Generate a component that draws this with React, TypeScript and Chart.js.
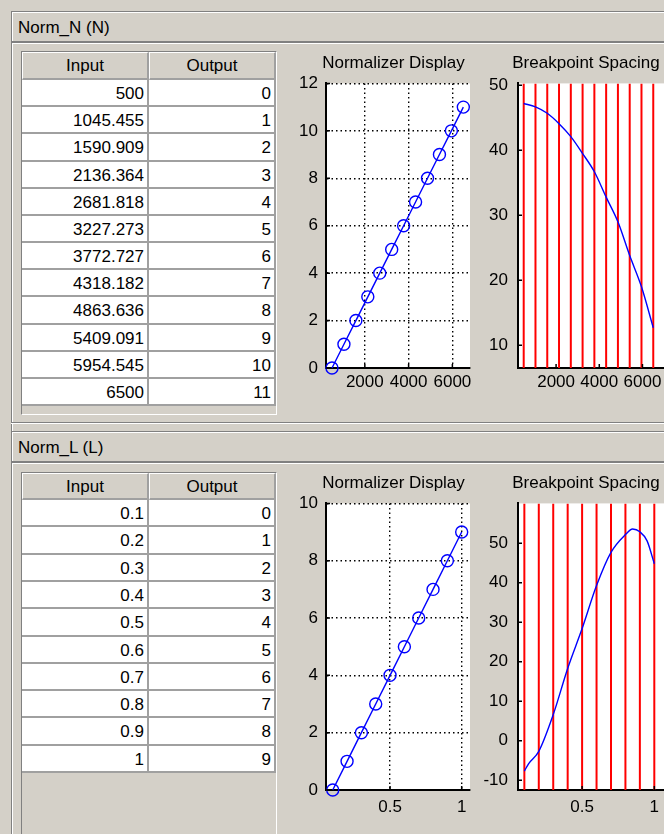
import React, { useEffect, useRef } from 'react';
import { Chart, registerables } from 'chart.js';

Chart.register(...registerables);

// ---------------- data ----------------
const N_TITLE = 'Norm_N (N)';
const L_TITLE = 'Norm_L (L)';
const TABLE_HEADERS = ['Input', 'Output'];
const DISPLAY_TITLE = 'Normalizer Display';
const SPACING_TITLE = 'Breakpoint Spacing';

const N_INPUT = [500, 1045.455, 1590.909, 2136.364, 2681.818, 3227.273, 3772.727, 4318.182, 4863.636, 5409.091, 5954.545, 6500];
const N_OUTPUT = [0, 1, 2, 3, 4, 5, 6, 7, 8, 9, 10, 11];
const N_SPACING = [47.2, 46.7, 45.7, 44.1, 42.1, 39.5, 36.7, 32.8, 29.0, 23.8, 19.0, 12.7];
const N_X_TICKS = [2000, 4000, 6000];
const N_DISPLAY_Y_TICKS = [0, 2, 4, 6, 8, 10, 12];
const N_SPACING_Y_TICKS = [10, 20, 30, 40, 50];

const L_INPUT = [0.1, 0.2, 0.3, 0.4, 0.5, 0.6, 0.7, 0.8, 0.9, 1];
const L_OUTPUT = [0, 1, 2, 3, 4, 5, 6, 7, 8, 9];
const L_SPACING_X = [0.1, 0.13, 0.2, 0.3, 0.4, 0.5, 0.6, 0.7, 0.8, 0.85, 0.9, 0.95, 1.0];
const L_SPACING_Y = [-7.7, -5.8, -2.7, 6.6, 18.3, 28.4, 39.3, 47.7, 52.2, 53.6, 52.9, 50.6, 44.8];
const L_X_TICKS = [0.5, 1];
const L_DISPLAY_Y_TICKS = [0, 2, 4, 6, 8, 10];
const L_SPACING_Y_TICKS = [-10, 0, 10, 20, 30, 40, 50];

// ---------------- style ----------------
const FONT = '"Liberation Sans", Arial, Helvetica, sans-serif';
const BG = '#d4d0c8';
const DARK = '#808080';
const GRIDC = '#a0a0a0';

Chart.defaults.font.family = FONT;
Chart.defaults.color = '#000';

const plotBg = {
  id: 'plotBg',
  beforeDraw(chart: any) {
    const { ctx, chartArea: a } = chart;
    ctx.save();
    ctx.fillStyle = '#fff';
    ctx.fillRect(a.left, a.top, a.right - a.left, a.bottom - a.top);
    ctx.restore();
  },
};

const inwardTicks = {
  id: 'inwardTicks',
  afterDatasetsDraw(chart: any) {
    const { ctx, chartArea: a } = chart;
    const xs = chart.scales.x;
    const ys = chart.scales.y;
    ctx.save();
    ctx.strokeStyle = '#000';
    ctx.lineWidth = 1.5;
    ctx.beginPath();
    xs.ticks.forEach((t: any) => {
      const p = xs.getPixelForValue(t.value);
      ctx.moveTo(p, a.bottom);
      ctx.lineTo(p, a.bottom - 4);
    });
    ys.ticks.forEach((t: any) => {
      const p = ys.getPixelForValue(t.value);
      ctx.moveTo(a.left, p);
      ctx.lineTo(a.left + 4, p);
    });
    ctx.stroke();
    ctx.restore();
  },
};

function axis(range: [number, number], ticks: number[], grid: boolean, pad: number) {
  return {
    type: 'linear',
    min: range[0],
    max: range[1],
    bounds: 'data',
    afterBuildTicks: (s: any) => {
      s.ticks = ticks.map((v) => ({ value: v }));
    },
    grid: { display: grid, drawTicks: false, color: '#000', lineWidth: 1.4 },
    border: { display: true, color: '#000', width: 2, dash: [1.5, 3] },
    ticks: {
      padding: pad,
      color: '#000',
      font: { size: 17, family: FONT },
      autoSkip: false,
      maxRotation: 0,
      callback: (v: any) => String(v),
    },
  };
}

type Spec = {
  title: string;
  datasets: any[];
  xRange: [number, number];
  yRange: [number, number];
  xTicks: number[];
  yTicks: number[];
  grid: boolean;
  yAxisW: number;
  rightW: number;
  xPad: number;
  yPad: number;
};

function buildConfig(p: Spec): any {
  return {
    type: 'line',
    data: { datasets: p.datasets },
    options: {
      responsive: false,
      animation: false,
      events: [],
      layout: { padding: 0 },
      plugins: {
        legend: { display: false },
        tooltip: { enabled: false },
        title: {
          display: true,
          text: p.title,
          color: '#000',
          font: { size: 17, weight: 'normal', family: FONT },
          padding: { top: 3, bottom: 10 },
        },
      },
      scales: {
        x: {
          ...axis(p.xRange, p.xTicks, p.grid, p.xPad),
          position: 'bottom',
          afterFit: (s: any) => {
            s.height = 30;
          },
        },
        y: {
          ...axis(p.yRange, p.yTicks, p.grid, p.yPad),
          position: 'left',
          afterFit: (s: any) => {
            s.width = p.yAxisW;
          },
        },
        spacer: {
          type: 'linear',
          position: 'right',
          grid: { display: false },
          border: { display: false },
          ticks: { display: false },
          afterFit: (s: any) => {
            s.width = p.rightW;
          },
        },
      },
    },
    plugins: [plotBg, inwardTicks],
  };
}

function ChartBox({ left, top, width, height, spec }: { left: number; top: number; width: number; height: number; spec: () => Spec }) {
  const ref = useRef<HTMLCanvasElement>(null);
  useEffect(() => {
    const chart = new Chart(ref.current as HTMLCanvasElement, buildConfig(spec()));
    return () => chart.destroy();
  }, []);
  return <canvas ref={ref} width={width} height={height} style={{ position: 'absolute', left, top, width, height }} />;
}

function displayDataset(xs: number[], ys: number[]) {
  return {
    data: xs.map((x, i) => ({ x, y: ys[i] })),
    borderColor: '#0000ff',
    borderWidth: 1.4,
    pointRadius: 6,
    pointBorderWidth: 1.4,
    pointBorderColor: '#0000ff',
    pointBackgroundColor: 'rgba(0,0,0,0)',
    tension: 0,
    clip: false,
  };
}

function spacingDatasets(curveX: number[], curveY: number[], breaks: number[], yRange: [number, number]) {
  return [
    {
      data: curveX.map((x, i) => ({ x, y: curveY[i] })),
      borderColor: '#0000ff',
      borderWidth: 1.4,
      pointRadius: 0,
      cubicInterpolationMode: 'monotone',
    },
    {
      data: breaks.flatMap((x) => [
        { x, y: yRange[0] },
        { x, y: yRange[1] },
        { x, y: null },
      ]),
      borderColor: '#ff0000',
      borderWidth: 2,
      pointRadius: 0,
      spanGaps: false,
    },
  ];
}

function Panel({ top, title }: { top: number; title: string }) {
  return (
    <>
      <div
        style={{
          position: 'absolute',
          left: 11,
          top,
          width: 700,
          height: 1000,
          borderTop: `1px solid ${DARK}`,
          borderLeft: `1px solid ${DARK}`,
          boxShadow: 'inset 1px 1px 0 #fff',
        }}
      />
      <div
        style={{
          position: 'absolute',
          left: 12,
          top: top + 1,
          width: 700,
          height: 29,
          borderBottom: `2px solid ${DARK}`,
          boxShadow: '0 1px 0 #fff',
          paddingLeft: 6,
          lineHeight: '31px',
          fontSize: 17,
          whiteSpace: 'nowrap',
        }}
      >
        {title}
      </div>
    </>
  );
}

function PanelBottom({ top }: { top: number }) {
  return (
    <div
      style={{
        position: 'absolute',
        left: 11,
        top,
        width: 700,
        height: 1,
        borderBottom: '1px solid #fff',
        background: DARK,
      }}
    />
  );
}

function DataTable({
  top,
  headerBottom,
  rowH,
  frameBottom,
  inputs,
  outputs,
}: {
  top: number;
  headerBottom: number;
  rowH: number;
  frameBottom: number;
  inputs: number[];
  outputs: number[];
}) {
  const cellText: React.CSSProperties = {
    position: 'absolute',
    boxSizing: 'border-box',
    textAlign: 'right',
    paddingRight: 3,
    fontSize: 17,
    background: '#fff',
    whiteSpace: 'nowrap',
  };
  const rows = inputs.map((v, i) => {
    const t = Math.round(headerBottom + i * rowH);
    const b = Math.round(headerBottom + (i + 1) * rowH);
    const h = b - t;
    return (
      <React.Fragment key={i}>
        <div
          style={{
            ...cellText,
            left: 22,
            top: t,
            width: 127,
            height: h,
            lineHeight: `${h}px`,
            borderRight: `2px solid ${GRIDC}`,
            borderBottom: `2px solid ${GRIDC}`,
          }}
        >
          {String(v)}
        </div>
        <div
          style={{
            ...cellText,
            left: 149,
            top: t,
            width: 127,
            height: h,
            lineHeight: `${h}px`,
            borderRight: `2px solid ${GRIDC}`,
            borderBottom: `2px solid ${GRIDC}`,
          }}
        >
          {String(outputs[i])}
        </div>
      </React.Fragment>
    );
  });
  const headH = headerBottom - (top + 1);
  const headStyle: React.CSSProperties = {
    position: 'absolute',
    boxSizing: 'border-box',
    top: top + 1,
    height: headH,
    lineHeight: `${headH - 2}px`,
    textAlign: 'center',
    fontSize: 17,
    background: BG,
    borderTop: '1px solid #fff',
    borderLeft: '1px solid #fff',
    borderRight: `2px solid ${GRIDC}`,
    borderBottom: `2px solid ${GRIDC}`,
  };
  return (
    <>
      <div
        style={{
          position: 'absolute',
          left: 21,
          top,
          width: 256,
          height: frameBottom - top,
          boxSizing: 'border-box',
          borderTop: `1px solid ${DARK}`,
          borderLeft: `1px solid ${DARK}`,
          borderRight: '1px solid #fff',
          borderBottom: '1px solid #fff',
        }}
      />
      <div style={{ ...headStyle, left: 22, width: 127 }}>{TABLE_HEADERS[0]}</div>
      <div style={{ ...headStyle, left: 149, width: 127 }}>{TABLE_HEADERS[1]}</div>
      {rows}
    </>
  );
}

export default function App() {
  return (
    <div
      style={{
        position: 'fixed',
        left: 0,
        top: 0,
        width: 664,
        height: 834,
        overflow: 'hidden',
        background: BG,
        fontFamily: FONT,
        color: '#000',
      }}
    >
      <Panel top={11} title={N_TITLE} />
      <DataTable top={51} headerBottom={80} rowH={27.17} frameBottom={415} inputs={N_INPUT} outputs={N_OUTPUT} />
      <ChartBox
        left={290}
        top={50}
        width={207}
        height={348}
        spec={() => ({
          title: DISPLAY_TITLE,
          datasets: [displayDataset(N_INPUT, N_OUTPUT)],
          xRange: [226, 6805],
          yRange: [0, 12],
          xTicks: N_X_TICKS,
          yTicks: N_DISPLAY_Y_TICKS,
          grid: true,
          yAxisW: 36,
          rightW: 27,
          xPad: 4,
          yPad: 8,
        })}
      />
      <ChartBox
        left={480}
        top={50}
        width={212}
        height={348}
        spec={() => ({
          title: SPACING_TITLE,
          datasets: spacingDatasets(N_INPUT, N_SPACING, N_INPUT, [6.5, 50.3]),
          xRange: [236, 7090],
          yRange: [6.5, 50.3],
          xTicks: N_X_TICKS,
          yTicks: N_SPACING_Y_TICKS,
          grid: false,
          yAxisW: 38,
          rightW: 26,
          xPad: 4,
          yPad: 10,
        })}
      />
      <PanelBottom top={422} />

      <Panel top={431} title={L_TITLE} />
      <DataTable top={472} headerBottom={500} rowH={27.3} frameBottom={1000} inputs={L_INPUT} outputs={L_OUTPUT} />
      <ChartBox
        left={290}
        top={470}
        width={207}
        height={350}
        spec={() => ({
          title: DISPLAY_TITLE,
          datasets: [displayDataset(L_INPUT, L_OUTPUT)],
          xRange: [0.053, 1.058],
          yRange: [0, 10],
          xTicks: L_X_TICKS,
          yTicks: L_DISPLAY_Y_TICKS,
          grid: true,
          yAxisW: 36,
          rightW: 27,
          xPad: 7,
          yPad: 8,
        })}
      />
      <ChartBox
        left={480}
        top={470}
        width={212}
        height={350}
        spec={() => ({
          title: SPACING_TITLE,
          datasets: spacingDatasets(L_SPACING_X, L_SPACING_Y, L_INPUT, [-12.5, 60.1]),
          xRange: [0.056, 1.081],
          yRange: [-12.5, 60.1],
          xTicks: L_X_TICKS,
          yTicks: L_SPACING_Y_TICKS,
          grid: false,
          yAxisW: 38,
          rightW: 26,
          xPad: 7,
          yPad: 10,
        })}
      />
    </div>
  );
}
